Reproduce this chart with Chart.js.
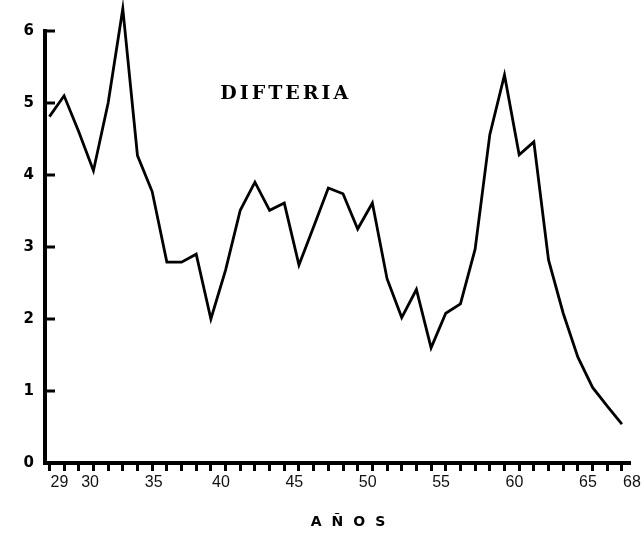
<!DOCTYPE html>
<html>
<head>
<meta charset="utf-8">
<script src="https://cdn.jsdelivr.net/npm/chart.js@4"></script>
<style>
  html, body { margin: 0; padding: 0; background: #fff; }
  canvas { display: block; }
</style>
</head>
<body>
<canvas id="c" width="644" height="535"></canvas>
<script>
// Years (19xx) and values
const years = [29,30,31,32,33,34,35,36,37,38,39,40,41,42,43,44,45,46,47,48,
               49,50,51,52,53,54,55,56,57,58,59,60,61,62,63,64,65,66,67,68];
const values = [4.81,5.10,4.60,4.06,5.00,6.31,4.27,3.77,2.79,2.79,
                2.90,2.00,2.68,3.51,3.90,3.51,3.61,2.75,3.28,3.82,
                3.74,3.25,3.61,2.56,2.02,2.41,1.60,2.08,2.21,2.97,
                4.56,5.39,4.28,4.46,2.82,2.08,1.47,1.05,0.79,0.54];
const labeledYears = [29,30,35,40,45,50,55,60,65,68];
const yTickValues = [0,1,2,3,4,5,6];
const chartTitle = 'DIFTERIA';
const xTitle = 'AÑOS';

const extras = {
  id: 'extras',
  afterDraw(chart) {
    const ctx = chart.ctx;
    const xs = chart.scales.x, ys = chart.scales.y;
    const area = chart.chartArea;
    ctx.save();
    // inward tick marks on the y axis
    ctx.strokeStyle = '#000';
    ctx.lineWidth = 3;
    ctx.lineCap = 'butt';
    yTickValues.filter(v => v > 0).forEach(v => {
      const py = ys.getPixelForValue(v);
      ctx.beginPath();
      ctx.moveTo(area.left, py);
      ctx.lineTo(area.left + 10, py);
      ctx.stroke();
    });
    // chart title inside the plot
    ctx.fillStyle = '#000';
    ctx.textAlign = 'center';
    ctx.textBaseline = 'middle';
    ctx.font = 'bold 19px "DejaVu Serif"';
    ctx.letterSpacing = '3px';
    ctx.fillText(chartTitle, xs.getPixelForValue(45.1), ys.getPixelForValue(5.12));
    // x axis title
    ctx.font = 'bold 14px "DejaVu Sans"';
    ctx.letterSpacing = '10px';
    ctx.fillText(xTitle, xs.getPixelForValue(49.34) + 5, area.bottom + 59);
    ctx.restore();
  }
};

new Chart(document.getElementById('c'), {
  type: 'line',
  data: {
    datasets: [{
      data: years.map((y, i) => ({ x: y, y: values[i] })),
      borderColor: '#000',
      borderWidth: 2.8,
      pointRadius: 0,
      tension: 0,
      fill: false,
      clip: false
    }]
  },
  options: {
    responsive: false,
    animation: false,
    layout: { padding: { top: 31, right: 14, left: 0, bottom: 0 } },
    plugins: { legend: { display: false }, tooltip: { enabled: false } },
    scales: {
      x: {
        type: 'linear',
        position: 'bottom',
        min: 28.7,
        max: 68.55,
        afterBuildTicks: s => { s.ticks = years.map(v => ({ value: v })); },
        afterFit: s => { s.height = 72; },
        border: { display: true, color: '#000', width: 4 },
        grid: { display: true, drawOnChartArea: false, drawTicks: true,
                tickLength: 8, tickWidth: 3, color: '#000' },
        ticks: {
          autoSkip: false, maxRotation: 0, minRotation: 0,
          padding: 2, labelOffset: 10,
          color: '#111',
          font: { family: 'Liberation Sans', size: 16 },
          callback: v => {
            if (!labeledYears.includes(v)) return '';
            if (v === 30) return '\u2002\u2002\u2002\u2002' + v;
            if (v === 35) return '\u2002 ' + v;
            return String(v);
          }
        }
      },
      y: {
        min: 0, max: 6,
        afterBuildTicks: s => { s.ticks = yTickValues.map(v => ({ value: v })); },
        afterFit: s => { s.width = 45; },
        border: { display: true, color: '#000', width: 4 },
        grid: { display: true, drawOnChartArea: false, drawTicks: false },
        ticks: {
          padding: 11,
          color: '#000',
          font: { family: 'DejaVu Sans', size: 15, weight: 'bold' }
        }
      }
    }
  },
  plugins: [extras]
});
</script>
</body>
</html>
